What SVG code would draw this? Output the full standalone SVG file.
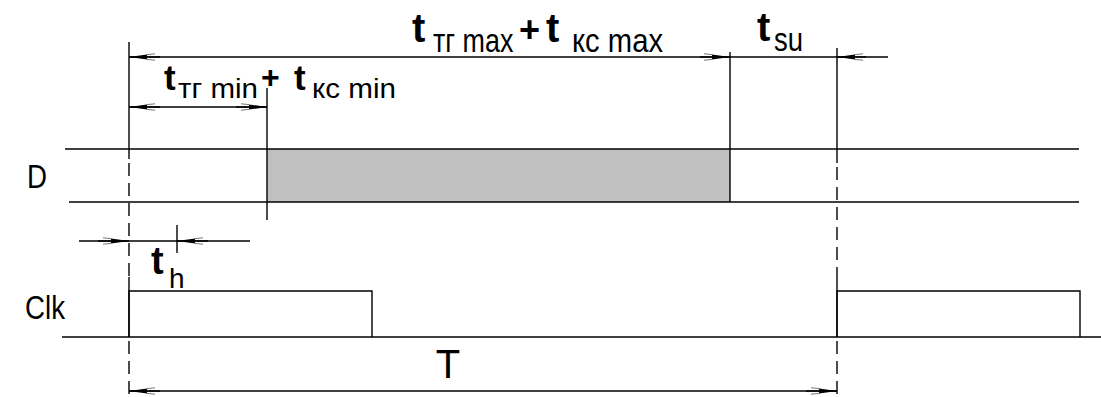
<svg xmlns="http://www.w3.org/2000/svg" width="1101" height="397" viewBox="0 0 1101 397">
  <style>
    .ln { stroke: #000; stroke-width: 1.4; fill: none; }
    .dash { stroke: #000; stroke-width: 1.4; fill: none; stroke-dasharray: 13 7; }
    .big { font-family: "Liberation Sans", Arial, sans-serif; font-weight: bold; fill: #000; }
    .sub { font-family: "Liberation Sans", Arial, sans-serif; font-weight: normal; fill: #000; }
    .lbl { font-family: "Liberation Sans", Arial, sans-serif; fill: #000; }
    .arr { stroke: #000; stroke-width: 1.4; fill: none; marker-end: url(#ah); }
  </style>
  <defs>
    <marker id="ah" markerUnits="userSpaceOnUse" markerWidth="28" markerHeight="10" viewBox="0 0 28 10" refX="27" refY="5" orient="auto">
      <path d="M27,5 L9,2.4 L9,7.6 Z" fill="#000"/>
      <path d="M9,2.6 L1,1.8 M9,7.4 L1,8.2" stroke="#777" stroke-width="1" fill="none"/>
    </marker>
  </defs>
  <rect width="1101" height="397" fill="#fff"/>

  <g id="signal-D">
    <rect x="267" y="149" width="463" height="53" fill="#c0c0c0"/>
    <line class="ln" x1="65" y1="149" x2="1079" y2="149"/>
    <line class="ln" x1="69" y1="202" x2="1079" y2="202"/>
    <line class="ln" x1="267" y1="88" x2="267" y2="220"/>
    <line class="ln" x1="730" y1="52" x2="730" y2="202"/>
    <text class="lbl" x="27" y="188" font-size="34" textLength="20" lengthAdjust="spacingAndGlyphs">D</text>
  </g>

  <g id="signal-Clk">
    <line class="ln" x1="62" y1="337" x2="1101" y2="337"/>
    <polyline class="ln" points="129,337 129,291 372,291 372,337"/>
    <polyline class="ln" points="837,337 837,291 1080,291 1080,337"/>
    <text class="lbl" x="25" y="319" font-size="33" textLength="40" lengthAdjust="spacingAndGlyphs">Clk</text>
  </g>

  <g id="guides">
    <line class="ln" x1="129" y1="42" x2="129" y2="159"/>
    <line class="dash" x1="129" y1="163" x2="129" y2="277"/>
    <line class="ln" x1="129" y1="277" x2="129" y2="337"/>
    <line class="dash" x1="129" y1="341" x2="129" y2="397"/>
    <line class="ln" x1="837" y1="48" x2="837" y2="163"/>
    <line class="dash" x1="837" y1="167" x2="837" y2="277"/>
    <line class="ln" x1="837" y1="277" x2="837" y2="337"/>
    <line class="dash" x1="837" y1="341" x2="837" y2="397"/>
  </g>

  <g id="connectors">
    <line class="ln" x1="129" y1="57" x2="888" y2="57"/>
    <path class="arr" d="M160,57 L129,57"/>
    <path class="arr" d="M700,57 L730,57"/>
    <path class="arr" d="M866,57 L837,57"/>

    <line class="ln" x1="129" y1="107" x2="267" y2="107"/>
    <path class="arr" d="M160,107 L129,107"/>
    <path class="arr" d="M236,107 L267,107"/>

    <line class="ln" x1="79" y1="241" x2="250" y2="241"/>
    <line class="ln" x1="177" y1="225" x2="177" y2="253"/>
    <path class="arr" d="M98,241 L129,241"/>
    <path class="arr" d="M208,241 L177,241"/>

    <line class="ln" x1="129" y1="391" x2="837" y2="391"/>
    <path class="arr" d="M160,391 L129,391"/>
    <path class="arr" d="M806,391 L837,391"/>
  </g>

  <g id="label-tmax">
    <text class="big" x="412" y="42" font-size="40">t</text>
    <g transform="translate(433,52) scale(0.82,1)">
      <text class="sub" x="0" y="0" font-size="33" textLength="98" lengthAdjust="spacingAndGlyphs">тг max</text>
    </g>
    <text class="big" x="519" y="42" font-size="36">+</text>
    <text class="big" x="546" y="42" font-size="40">t</text>
    <text class="sub" x="572" y="52" font-size="33" textLength="91" lengthAdjust="spacingAndGlyphs">кс max</text>
  </g>

  <g id="label-tsu">
    <text class="big" x="757" y="41" font-size="40">t</text>
    <text class="sub" x="774" y="51" font-size="33" textLength="29" lengthAdjust="spacingAndGlyphs">su</text>
  </g>

  <g id="label-tmin">
    <text class="big" x="164" y="90" font-size="35">t</text>
    <text class="sub" x="178" y="98" font-size="28" textLength="80" lengthAdjust="spacingAndGlyphs">тг min</text>
    <text class="big" x="261" y="88" font-size="32">+</text>
    <text class="big" x="294" y="90" font-size="35">t</text>
    <text class="sub" x="312" y="98" font-size="28" textLength="84" lengthAdjust="spacingAndGlyphs">кс min</text>
  </g>

  <g id="label-th">
    <text class="big" x="151" y="274" font-size="38">t</text>
    <text class="sub" x="169" y="288" font-size="28">h</text>
  </g>

  <g id="label-T">
    <text class="lbl" x="448" y="378" font-size="40" text-anchor="middle">T</text>
  </g>
</svg>
